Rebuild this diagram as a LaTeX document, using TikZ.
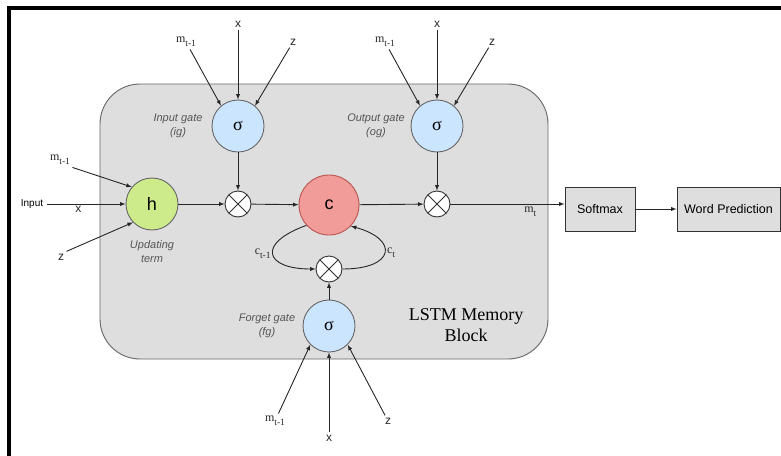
\documentclass[tikz,border=0pt]{standalone}
\usepackage{fontspec}
\setmainfont{Liberation Sans}
\newfontfamily\tms{Liberation Serif}
\usetikzlibrary{arrows,positioning}

\definecolor{gateblue}{HTML}{CCE5FF}
\definecolor{updgreen}{HTML}{CDEB8B}
\definecolor{cellred}{HTML}{F19C99}
\definecolor{cellline}{HTML}{B85450}
\definecolor{blockgray}{HTML}{DEDEDE}
\definecolor{edgegray}{HTML}{666666}
\definecolor{notegray}{HTML}{555555}

% serif letter with a lowered index
\newcommand{\idx}[2]{{\tms #1\raisebox{-0.35em}{\fontsize{9.5}{10}\selectfont #2}}}
\newcommand{\mprev}{\idx{m}{t-1}}

\tikzset{
  gate/.style={circle, draw=edgegray, fill=gateblue, minimum size=52pt, inner sep=0pt, font=\tms\fontsize{18}{18}\selectfont},
  upd/.style={circle, draw=edgegray, fill=updgreen, minimum size=52pt, inner sep=0pt, font=\fontsize{18}{18}\selectfont},
  cell/.style={circle, draw=cellline, fill=cellred, minimum size=60pt, inner sep=0pt, font=\fontsize{18}{18}\selectfont},
  mult/.style={circle, draw=black!80, fill=white, minimum size=26pt, inner sep=0pt,
    path picture={\draw[black!80] (path picture bounding box.south west) -- (path picture bounding box.north east)
      (path picture bounding box.north west) -- (path picture bounding box.south east);}},
  memblock/.style={draw=edgegray, fill=blockgray, rounded corners=40pt, minimum width=448pt, minimum height=275pt},
  outbox/.style={draw=black!80, fill=blockgray, minimum height=44pt, font=\fontsize{12.5}{14}\selectfont},
  sym/.style={font=\fontsize{12}{14}\selectfont, inner sep=2pt, text=black!85},
  note/.style={font=\itshape\fontsize{11}{14}\selectfont, text=notegray, align=center},
  wire/.style={draw=black!85, -latex},
}

\begin{document}
\begin{tikzpicture}[x=1pt,y=-1pt,line width=0.9pt]
\useasboundingbox (0,0) rectangle (781,455);
\draw[line width=4pt] (9,465) -- (9,7.5) -- (790,7.5);

\node[memblock] (blk) at (324,221.5) {};
\node[font=\tms\fontsize{18}{21}\selectfont, align=center] (title) at (466,325) {LSTM Memory\\Block};

% gates and cell
\node[gate] (ig) at (238,126) {σ};
\node[gate] (og) at (437,126) {σ};
\node[gate] (fg) at (329,326) {σ};
\node[upd] (h) at (152,204) {h};
\node[cell] (c) at (329,205) {c};
\node[mult] (mi) at (238,204) {};
\node[mult] (mo) at (437,204) {};
\node[mult] (mf) at (329,269) {};
\node[outbox, minimum width=70pt] (soft) at (600,209) {Softmax};
\node[outbox, minimum width=103pt] (pred) at (728.5,209) {Word Prediction};

\node[note] at (178,126) {Input gate\\(ig)};
\node[note] at (376,126) {Output gate\\(og)};
\node[note] at (152,252) {Updating\\term};
\node[note] at (267,326) {Forget gate\\(fg)};

% inputs of the upper gates
\foreach \g/\gx in {ig/238, og/437} {
  \node[sym] (\g x) at (\gx,24) {x};
  \node[sym] (\g m) at (\gx-52,42) {\mprev};
  \node[sym] (\g z) at (\gx+55,42) {z};
  \draw[wire] (\g x) -- (\g.north);
  \draw[wire] (\g m) -- (\g.130);
  \draw[wire] (\g z) -- (\g.50);
}

% inputs of the forget gate
\node[sym] (fm) at (275,421) {\mprev};
\node[sym] (fx) at (329,438) {x};
\node[sym] (fz) at (388,421) {z};
\draw[wire] (fm) -- (fg.225);
\draw[wire] (fx) -- (fg);
\draw[wire] (fz) -- (fg.315);

% inputs of the updating term
\node[sym] (hm) at (60,160) {\mprev};
\node[sym] (hz) at (61,257) {z};
\node[font=\fontsize{10}{12}\selectfont] (inp) at (32,204) {Input};
\draw[wire] (hm.south east) -- (h.140);
\draw[wire] (hz.north east) -- (h.224);
\draw[wire] (inp) -- node[sym, below, pos=0.4] {x} (h);

\draw[wire] (h) -- (mi);
\draw[wire] (ig) -- (mi);
\draw[wire] (mi) -- (c);
\draw[wire] (c) -- (mo);
\draw[wire] (og) -- (mo);
\draw[wire] (mo) -- node[sym, below, pos=0.7] {\idx{m}{t}} (mo -| soft.west);
\draw[wire] (soft) -- (pred);
\draw[wire] (fg) -- (mf);

% cell state loop
\draw[wire] (c.222) .. controls +(-50,18) and +(-51,0) .. node[sym, left, pos=0.5] {\idx{c}{t-1}} (mf.west);
\draw[wire] (mf.east) .. controls +(53,0) and +(48,13) .. node[sym, right, pos=0.5] {\idx{c}{t}} (c.316);
\end{tikzpicture}
\end{document}
